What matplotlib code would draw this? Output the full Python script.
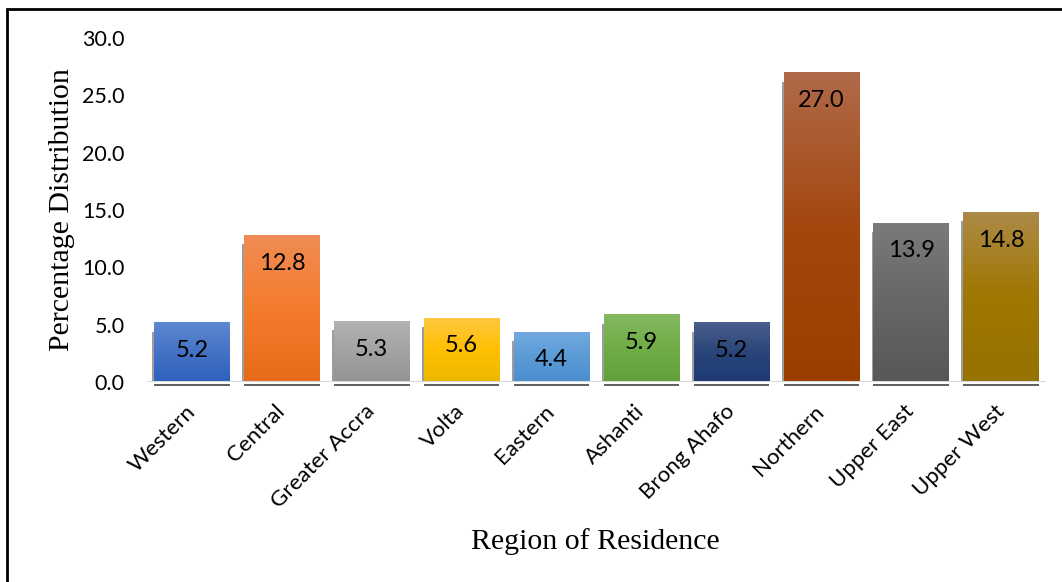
import matplotlib.pyplot as plt
import numpy as np
from matplotlib import ticker
from matplotlib.colors import LinearSegmentedColormap
from matplotlib.patches import Rectangle

regions = ['Western', 'Central', 'Greater Accra', 'Volta', 'Eastern',
           'Ashanti', 'Brong Ahafo', 'Northern', 'Upper East', 'Upper West']
percent = [5.2, 12.8, 5.3, 5.6, 4.4, 5.9, 5.2, 27.0, 13.9, 14.8]
# top, middle, bottom colour of each bar's gradient
top_colors = ['#5e88d2', '#f08c55', '#b3b3b3', '#ffc843', '#74a9e0',
              '#84b960', '#4c5f8e', '#b06a4a', '#7b7b7b', '#ac8a48']
mid_colors = ['#4472c4', '#f47c2c', '#a3a3a3', '#ffc000', '#5b9bd5',
              '#70ad47', '#2a4579', '#a3470e', '#676767', '#a07700']
bot_colors = ['#2f61bd', '#e56b1a', '#929292', '#ebb800', '#4a8ed0',
              '#61a03a', '#1e3a76', '#9a3e00', '#575757', '#967200']

plt.rcParams['font.family'] = ['Lato', 'DejaVu Sans']

fig = plt.figure(figsize=(10.62, 5.82), dpi=100)
ax = fig.add_axes([0.1384, 0.3436, 0.8466, 0.5911])

x = np.arange(len(regions))
bars = ax.bar(x, percent, width=0.84, color='none', edgecolor='none', zorder=3)

for i, b in enumerate(bars):
    cmap = LinearSegmentedColormap.from_list(
        'g%d' % i, [bot_colors[i], mid_colors[i], top_colors[i]])
    grad = np.linspace(0, 1, 256).reshape(-1, 1)
    x0 = b.get_x()
    h = b.get_height()
    im = ax.imshow(grad, cmap=cmap, aspect='auto', origin='lower',
                   extent=(x0, x0 + b.get_width(), 0, h), zorder=3)
    im.set_clip_path(b)
    # slight shadow on left edge and below each bar
    ax.vlines(x0 - 0.01, 0, h - 0.8, color='#8a8a8a', lw=1.2, zorder=2)
    ax.hlines(-0.22, x0, x0 + b.get_width(), color='#333333', lw=1.1, zorder=2,
              clip_on=False)
    ax.annotate('%.1f' % percent[i], xy=(x[i], h), xytext=(0, -28),
                textcoords='offset pixels', ha='center', va='center',
                fontsize=17, color='black', zorder=5)

ax.axhline(0, color='#d9d9d9', lw=2.2, zorder=4)

ax.set_xlim(-0.5, len(regions) - 0.5)
ax.set_ylim(0, 30)
ax.yaxis.set_major_locator(ticker.MultipleLocator(5))
ax.yaxis.set_major_formatter(ticker.FormatStrFormatter('%.1f'))
ax.set_xticks(x)
ax.set_xticklabels(regions, rotation=45, ha='right', va='center',
                   rotation_mode='anchor', fontsize=16)
ax.tick_params(axis='x', length=0, pad=19)
ax.tick_params(axis='y', length=0, pad=16, labelsize=15.5)
for s in ax.spines.values():
    s.set_visible(False)

fig.text(0.0584, 0.64, 'Percentage Distribution', rotation=90, ha='center',
         va='center', fontsize=21.5, family='Liberation Serif')
fig.text(0.561, 0.070, 'Region of Residence', ha='center', va='center',
         fontsize=21.5, family='Liberation Serif')

fig.add_artist(Rectangle((7 / 1062, -0.1), 1.2, 1.1 - 9 / 582, fill=False,
                         edgecolor='black', lw=2, transform=fig.transFigure))

fig.savefig('out.png', dpi=100)
